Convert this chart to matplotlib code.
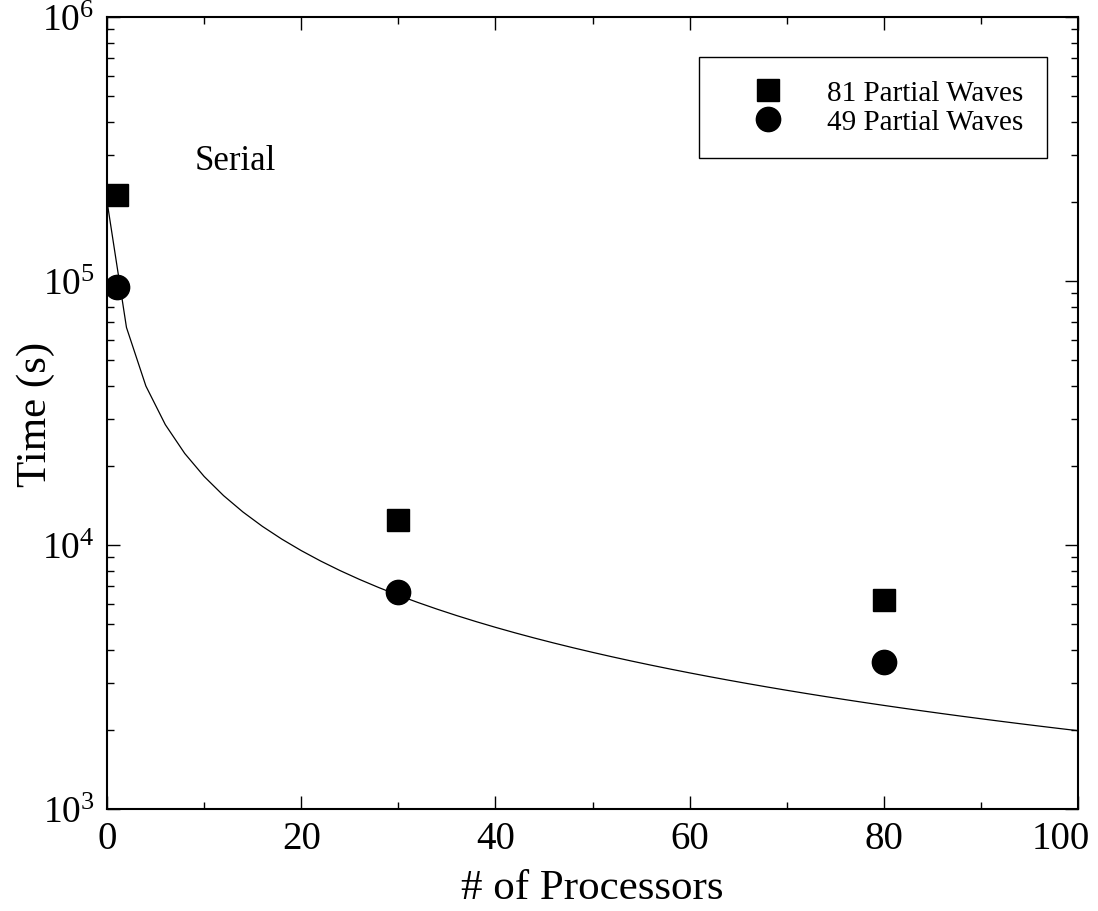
import numpy as np
import matplotlib
matplotlib.use("Agg")
import matplotlib.pyplot as plt
import matplotlib.transforms as mtransforms
from matplotlib.ticker import LogLocator, MultipleLocator, NullFormatter

plt.rcParams["font.family"] = ["Liberation Serif", "DejaVu Serif"]
plt.rcParams["mathtext.fontset"] = "custom"
plt.rcParams["mathtext.rm"] = "Liberation Serif"
plt.rcParams["mathtext.it"] = "Liberation Serif:italic"

# measured run times (s)
procs = [1, 30, 80]
time_81 = [2.11e5, 1.245e4, 6.18e3]
time_49 = [9.45e4, 6.63e3, 3.6e3]

# ideal scaling curve from the serial run
serial_time = 2.0e5
curve_x = np.arange(0, 101, 2)
curve_y = serial_time / (curve_x + 1)

fig = plt.figure(figsize=(10.98, 9.12), dpi=100)
ax = fig.add_axes([0.0975, 0.1118, 0.8843, 0.8685])

ax.plot(curve_x, curve_y, color="black", lw=0.9)
ax.plot(procs, time_81, "s", color="black", ms=16.5, label="81 Partial Waves")
ax.plot(procs, time_49, "o", color="black", ms=17.5, label="49 Partial Waves")

ax.set_yscale("log")
ax.set_xlim(0, 100)
ax.set_ylim(1e3, 1e6)

ax.xaxis.set_major_locator(MultipleLocator(20))
ax.xaxis.set_minor_locator(MultipleLocator(10))
ax.yaxis.set_major_locator(LogLocator(base=10, numticks=10))
ax.yaxis.set_minor_locator(LogLocator(base=10, subs=np.arange(2, 10), numticks=20))
ax.yaxis.set_minor_formatter(NullFormatter())

ax.tick_params(which="both", direction="in", top=True, right=True, width=1.0)
ax.tick_params(which="major", length=9.5, labelsize=28, pad=8)
ax.tick_params(axis="y", which="major", labelsize=27, pad=9)
ax.tick_params(which="minor", length=5)
for s in ax.spines.values():
    s.set_linewidth(1.5)

ax.set_xlabel("# of Processors", fontsize=31)
ax.set_ylabel("Time (s)", fontsize=31)
ax.xaxis.set_label_coords(0.5, -0.075)
ax.yaxis.set_label_coords(-0.054, 0.5)

# pull the "100" tick label back inside the figure
fig.canvas.draw()
for t in ax.xaxis.get_major_ticks():
    if abs(t.get_loc() - 100) < 1e-6:
        t.label1.set_transform(t.label1.get_transform() +
                               mtransforms.ScaledTranslation(-0.17, 0, fig.dpi_scale_trans))

ax.text(9.0, 2.85e5, "Serial", fontsize=25, va="center", ha="left")

leg = ax.legend(loc="upper right", bbox_to_anchor=(0.968, 0.950), fontsize=21,
                frameon=True, fancybox=False, edgecolor="black", framealpha=1,
                borderaxespad=0, handletextpad=0.5, borderpad=0.8,
                labelspacing=0.08, handlelength=3.1, markerscale=1.0)
leg.get_frame().set_linewidth(1.0)

fig.savefig("out.png", dpi=100)
